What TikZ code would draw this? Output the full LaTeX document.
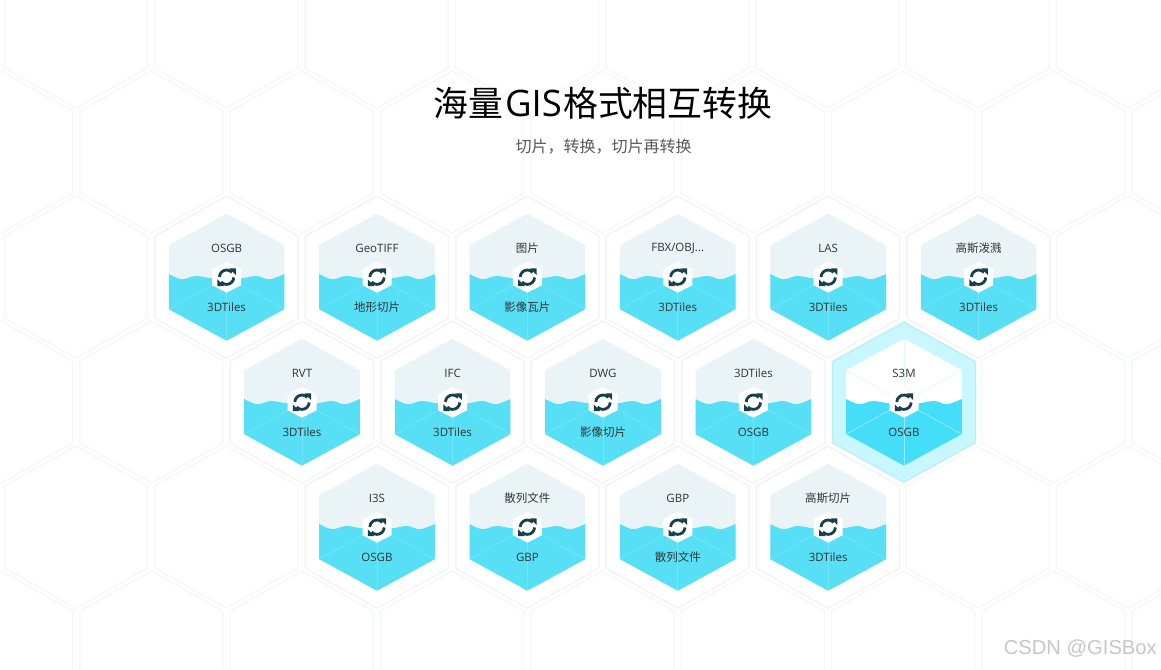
\documentclass[tikz,border=0pt]{standalone}
\usepackage{fontspec}
\setmainfont{Open Sans}
\newfontfamily\cjk{Noto Sans CJK SC}
\newfontfamily\wmfont{Liberation Sans}
\definecolor{gridline}{HTML}{F6F7F7}
\definecolor{tilerim}{HTML}{F3F4F4}
\definecolor{tilecap}{HTML}{EAF4F6}
\definecolor{tilesea}{HTML}{56DFF5}
\definecolor{hotring}{HTML}{C9F7FF}
\definecolor{hotedge}{HTML}{B4EEF8}
\definecolor{hotsea}{HTML}{44DEF8}
\definecolor{iconink}{HTML}{17404D}
\tikzset{
    gridhex/.style = {draw=gridline, line width=1.3pt},
    rimhex/.style = {draw=tilerim, line width=1.3pt, fill=white},
    capfill/.style = {fill=tilecap},
    seafill/.style = {fill=tilesea},
    spoke/.style = {draw=white, opacity=0.16, line width=0.8pt},
    tilelabel/.style = {text=black!80, font=\fontsize{11.5}{14}\selectfont, inner sep=0pt}
}
% hexagon outlines, centred on the current origin
\def\gridoutline{(0,-81) -- (71.5,-41) -- (71.5,41) -- (0,81) -- (-71.5,41) -- (-71.5,-41) -- cycle}
\def\capoutline{(0,-63.5) -- (57.8,-32) -- (57.8,32) -- (0,63.5) -- (-57.8,32) -- (-57.8,-32) -- cycle}
\def\seaoutline{plot[smooth,tension=0.6] coordinates {(-57.8,-3.2) (-45,2) (-31,-1.2) (-14,1.2) (0,0) (14,1.2) (30,-1.2) (43,2) (57.8,-3.2)} -- (57.8,32) -- (0,63.5) -- (-57.8,32) -- cycle}
\newcommand{\gistile}[5]{%
    \begin{scope}[shift={(#2,#3)}]
        \path[rimhex] \gridoutline;
        \path[capfill] \capoutline;
        \path[seafill] \seaoutline;
        \foreach \vx/\vy in {0/-63.5,57.8/-32,57.8/32,0/63.5,-57.8/32,-57.8/-32}
            \draw[spoke] (0,0) -- (\vx,\vy);
        \fill[white] (0,-15.5) -- (14.5,-8) -- (14.5,8) -- (0,15.5) -- (-14.5,8) -- (-14.5,-8) -- cycle;
        \begin{scope}[yscale=-1]
            \foreach \turn in {0,180} {
                \begin{scope}[rotate=\turn]
                    \draw[iconink, line width=2.8pt] (178:7.2) arc[start angle=178, end angle=42, radius=7.2];
                    \fill[iconink] (9.2,8.8) -- (9.2,2.2) -- (2.6,8.8) -- cycle;
                \end{scope}
            }
        \end{scope}
        \node[tilelabel] (#1top) at (0,-29) {#4};
        \node[tilelabel] (#1bot) at (0,30) {#5};
    \end{scope}}
\begin{document}
\begin{tikzpicture}[x=1pt,y=-1pt]
    \useasboundingbox[fill=white] (0,0) rectangle (1161,669);
    % honeycomb behind everything
    \foreach \k in {0,...,7}
        \foreach \yy in {27,277,527}
            \path[gridhex, shift={(76+150.3*\k,\yy)}] \gridoutline;
    \foreach \k in {0,...,8}
        \foreach \yy in {152,402,652}
            \path[gridhex, shift={(1.2+150.3*\k,\yy)}] \gridoutline;
    \node[font=\fontsize{36.5}{40}\selectfont, text=black, inner sep=0pt] (title) at (603,103) {{\fontsize{34.8}{40}\cjk 海量}\hspace{1.5pt}GIS\hspace{1.5pt}{\fontsize{34.8}{40}\cjk 格式相互转换}};
    \node[font=\fontsize{16}{20}\cjk, text=black!65, inner sep=0pt] (subtitle) at (603.5,147) {切片，转换，切片再转换};
    % first row
    \gistile{osgb}{226.6}{277.2}{OSGB}{3DTiles}
    \gistile{geotiff}{377}{277.2}{GeoTIFF}{\cjk 地形切片}
    \gistile{image}{527.4}{277.2}{\cjk 图片}{\cjk 影像瓦片}
    \gistile{fbx}{677.8}{277.2}{FBX/OBJ...}{3DTiles}
    \gistile{las}{828.2}{277.2}{LAS}{3DTiles}
    \gistile{gauss}{978.6}{277.2}{\cjk 高斯泼溅}{3DTiles}
    % second row
    \gistile{rvt}{302}{402.2}{RVT}{3DTiles}
    \gistile{ifc}{452.6}{402.2}{IFC}{3DTiles}
    \gistile{dwg}{603}{402.2}{DWG}{\cjk 影像切片}
    \gistile{tiles}{753.4}{402.2}{3DTiles}{OSGB}
    \begin{scope}[shift={(904,402.2)}]
        \path[draw=hotedge, line width=1pt, fill=hotring] (0,-80) -- (71.5,-40.5) -- (71.5,40.5) -- (0,80) -- (-71.5,40.5) -- (-71.5,-40.5) -- cycle;
    \end{scope}
    \begin{scope}[rimhex/.style={}, capfill/.style={fill=white}, seafill/.style={fill=hotsea}, spoke/.style={draw=hotring, opacity=0.6, line width=0.7pt}]
        \gistile{sthreem}{904}{402.2}{S3M}{OSGB}
    \end{scope}
    % third row
    \gistile{ithrees}{377}{527.2}{I3S}{OSGB}
    \gistile{hash}{527.4}{527.2}{\cjk 散列文件}{GBP}
    \gistile{gbp}{677.8}{527.2}{GBP}{\cjk 散列文件}
    \gistile{gausscut}{828.2}{527.2}{\cjk 高斯切片}{3DTiles}
    \node[font=\fontsize{20.2}{24}\wmfont, text=black!22, inner sep=0pt, anchor=east] (mark) at (1157,649) {CSDN @GISBox};
\end{tikzpicture}
\end{document}
